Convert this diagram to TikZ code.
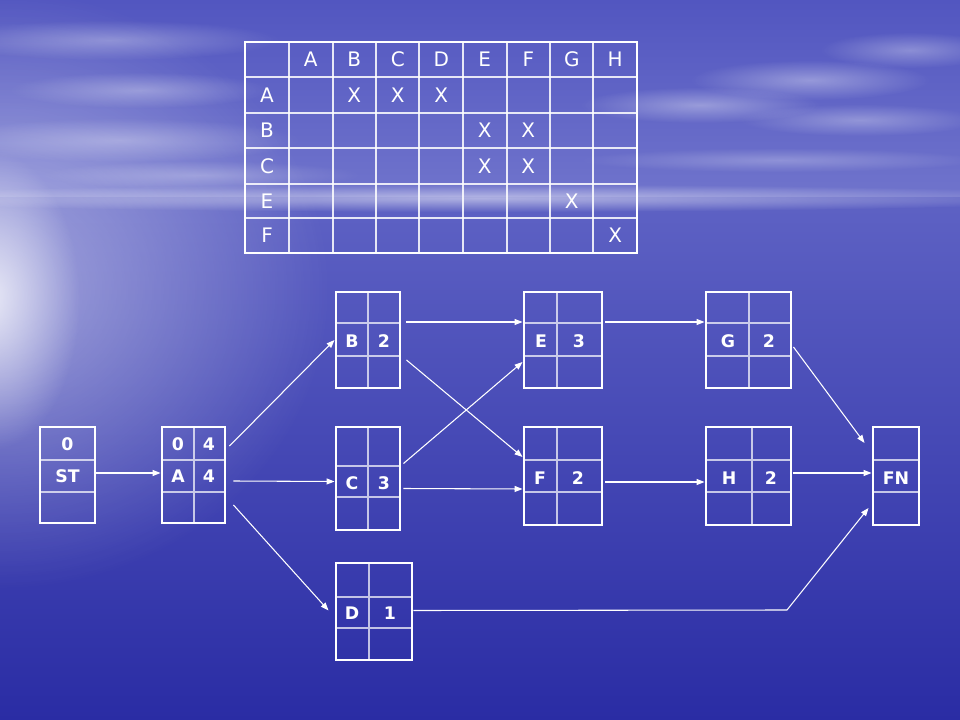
\documentclass[tikz,border=0pt]{standalone}
\usepackage{fontspec}
\setmainfont{DejaVu Sans}
\usetikzlibrary{arrows.meta,calc,fadings}

\definecolor{skytop}{RGB}{82,86,192}
\definecolor{skylow}{RGB}{112,116,204}
\definecolor{seahigh}{RGB}{94,98,196}
\definecolor{seamid}{RGB}{54,57,173}
\definecolor{sealow}{RGB}{42,44,164}

\tikzfading[name=softedge, inner color=transparent!0, outer color=transparent!100]

\tikzset{
  actframe/.style={draw=white, line width=2.2pt, inner sep=0pt},
  cellline/.style={draw=white, draw opacity=0.7, line width=1pt},
  tabline/.style={draw=white, draw opacity=0.85, line width=1.1pt},
  conn/.style={draw=white, line width=0.8pt, -{Triangle[length=6pt,width=4.5pt]}},
  act/.style={text=white, inner sep=0pt, font=\bfseries\fontsize{13}{15}\selectfont},
  tab/.style={text=white, inner sep=0pt, font=\fontsize{15}{17}\selectfont},
  cloud/.style={fill=white, path fading=softedge},
}

\begin{document}
\begin{tikzpicture}[x=0.75pt, y=-0.75pt]
\useasboundingbox (0,0) rectangle (960,720);

% background
\fill[top color=skytop, bottom color=skylow] (0,0) rectangle (960,198);
\shade[top color=seahigh, middle color=seamid, bottom color=sealow] (0,198) rectangle (960,720);
\fill[cloud, fill opacity=0.45] (0,290) ellipse (330 and 300);
\fill[cloud, fill opacity=0.75] (-10,300) ellipse (90 and 150);
\fill[cloud, fill opacity=0.3] (110,40) ellipse (170 and 20);
\fill[cloud, fill opacity=0.3] (140,90) ellipse (130 and 18);
\fill[cloud, fill opacity=0.3] (120,140) ellipse (180 and 22);
\fill[cloud, fill opacity=0.25] (200,175) ellipse (160 and 14);
\fill[cloud, fill opacity=0.35] (700,105) ellipse (120 and 18);
\fill[cloud, fill opacity=0.35] (810,80) ellipse (120 and 20);
\fill[cloud, fill opacity=0.3] (910,50) ellipse (90 and 18);
\fill[cloud, fill opacity=0.3] (860,120) ellipse (120 and 16);
\fill[cloud, fill opacity=0.25] (780,160) ellipse (200 and 12);
\fill[cloud, fill opacity=0.5] (480,198) ellipse (620 and 14);

% precedence table
\draw[tabline] (289,42) -- (289,253);
\draw[tabline] (333,42) -- (333,253);
\draw[tabline] (376,42) -- (376,253);
\draw[tabline] (419,42) -- (419,253);
\draw[tabline] (463,42) -- (463,253);
\draw[tabline] (507,42) -- (507,253);
\draw[tabline] (550,42) -- (550,253);
\draw[tabline] (593,42) -- (593,253);
\draw[tabline] (245,77) -- (637,77);
\draw[tabline] (245,113) -- (637,113);
\draw[tabline] (245,148) -- (637,148);
\draw[tabline] (245,184) -- (637,184);
\draw[tabline] (245,218) -- (637,218);
\draw[white, line width=2.2pt] (245,42) rectangle (637,253);

\node[tab] (hA) at (310.75,59.5) {A};
\node[tab] (hB) at (354.25,59.5) {B};
\node[tab] (hC) at (397.75,59.5) {C};
\node[tab] (hD) at (441.25,59.5) {D};
\node[tab] (hE) at (484.75,59.5) {E};
\node[tab] (hF) at (528.25,59.5) {F};
\node[tab] (hG) at (571.75,59.5) {G};
\node[tab] (hH) at (615.25,59.5) {H};

\node[tab] (rA) at (267,95) {A};
\node[tab] (rB) at (267,130.5) {B};
\node[tab] (rC) at (267,166) {C};
\node[tab] (rE) at (267,201) {E};
\node[tab] (rF) at (267,235.5) {F};

\node[tab] (xAB) at (354.25,95) {X};
\node[tab] (xAC) at (397.75,95) {X};
\node[tab] (xAD) at (441.25,95) {X};
\node[tab] (xBE) at (484.75,130.5) {X};
\node[tab] (xBF) at (528.25,130.5) {X};
\node[tab] (xCE) at (484.75,166) {X};
\node[tab] (xCF) at (528.25,166) {X};
\node[tab] (xEG) at (571.75,201) {X};
\node[tab] (xFH) at (615.25,235.5) {X};

% activity boxes
\draw[cellline] (40,460) -- (95,460) (40,492) -- (95,492);
\node[actframe, minimum width=41.25pt, minimum height=72pt] (ST) at (67.5,475) {};
\node[act] (ST-top) at (67.5,444) {0};
\node[act] (ST-name) at (67.5,476) {ST};

\draw[cellline] (194,427) -- (194,523) (162,460) -- (225,460) (162,492) -- (225,492);
\node[actframe, minimum width=47.25pt, minimum height=72pt] (A) at (193.5,475) {};
\node[act] (A-es) at (178,444) {0};
\node[act] (A-ef) at (209,444) {4};
\node[act] (A-name) at (178,476) {A};
\node[act] (A-dur) at (209,476) {4};

\draw[cellline] (368,292) -- (368,388) (336,323) -- (400,323) (336,356) -- (400,356);
\node[actframe, minimum width=48pt, minimum height=72pt] (B) at (368,340) {};
\node[act] (B-name) at (352,341) {B};
\node[act] (B-dur) at (384,341) {2};

\draw[cellline] (368,427) -- (368,530) (336,466) -- (400,466) (336,497) -- (400,497);
\node[actframe, minimum width=48pt, minimum height=77.25pt] (C) at (368,478.5) {};
\node[act] (C-name) at (352,483) {C};
\node[act] (C-dur) at (384,483) {3};

\draw[cellline] (369,563) -- (369,660) (336,597) -- (412,597) (336,628) -- (412,628);
\node[actframe, minimum width=57pt, minimum height=72.75pt] (D) at (374,611.5) {};
\node[act] (D-name) at (352,613) {D};
\node[act] (D-dur) at (390,613) {1};

\draw[cellline] (557,292) -- (557,388) (524,323) -- (602,323) (524,356) -- (602,356);
\node[actframe, minimum width=58.5pt, minimum height=72pt] (E) at (563,340) {};
\node[act] (E-name) at (541,341) {E};
\node[act] (E-dur) at (579,341) {3};

\draw[cellline] (557,427) -- (557,525) (524,460) -- (602,460) (524,492) -- (602,492);
\node[actframe, minimum width=58.5pt, minimum height=73.5pt] (F) at (563,476) {};
\node[act] (F-name) at (540,478) {F};
\node[act] (F-dur) at (578,478) {2};

\draw[cellline] (749,292) -- (749,388) (706,323) -- (791,323) (706,356) -- (791,356);
\node[actframe, minimum width=63.75pt, minimum height=72pt] (G) at (748.5,340) {};
\node[act] (G-name) at (728,341) {G};
\node[act] (G-dur) at (769,341) {2};

\draw[cellline] (752,427) -- (752,525) (706,460) -- (791,460) (706,492) -- (791,492);
\node[actframe, minimum width=63.75pt, minimum height=73.5pt] (H) at (748.5,476) {};
\node[act] (H-name) at (729,478) {H};
\node[act] (H-dur) at (771,478) {2};

\draw[cellline] (873,460) -- (919,460) (873,492) -- (919,492);
\node[actframe, minimum width=34.5pt, minimum height=73.5pt] (FN) at (896,476) {};
\node[act] (FN-name) at (896,478) {FN};

% connectors
\coordinate (Dbend) at (787,610);
\draw[conn] ($(ST.east)+(0,-2)$) -- ($(A.west)+(0,-2)$);
\draw[conn] ($(A.east)+(3,-29)$) -- (B.west);
\draw[conn] ($(A.east)+(7,6)$) -- ($(C.west)+(0,3)$);
\draw[conn] ($(A.east)+(7,30)$) -- ($(D.west)+(-6,-1)$);
\draw[conn] ($(B.east)+(5,-18)$) -- ($(E.west)+(0,-18)$);
\draw[conn] ($(B.east)+(5,20)$) -- ($(F.west)+(0,-19)$);
\draw[conn] ($(C.east)+(2,-15)$) -- ($(E.west)+(0,22)$);
\draw[conn] ($(C.east)+(2,10)$) -- ($(F.west)+(0,13)$);
\draw[conn] ($(E.east)+(2,-18)$) -- ($(G.west)+(0,-18)$);
\draw[conn] ($(F.east)+(2,6)$) -- ($(H.west)+(0,6)$);
\draw[conn] ($(G.east)+(1,7)$) -- ($(FN.west)+(-7,-33)$);
\draw[conn] ($(H.east)+(1,-3)$) -- ($(FN.west)+(0,-3)$);
\draw[conn] ($(D.east)+(0,-1)$) -- (Dbend) -- ($(FN.west)+(-3,32)$);

\end{tikzpicture}
\end{document}
